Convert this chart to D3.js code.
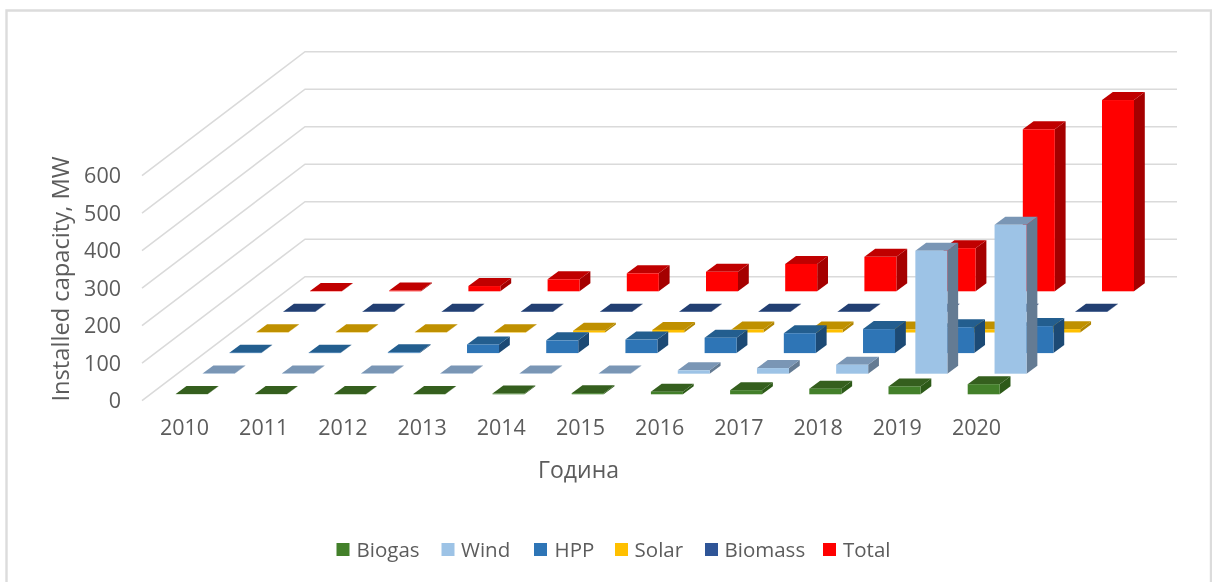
<!DOCTYPE html>
<html><head><meta charset="utf-8">
<script src="https://cdn.jsdelivr.net/npm/d3@7"></script>
<style>
html,body{margin:0;padding:0;background:#fff;overflow:hidden}
svg{display:block;filter:blur(0.45px)}
text{font-family:"Open Sans",sans-serif;fill:#5c5c5c}
</style></head><body>
<svg id="c" width="1212" height="582"></svg>
<script>
const years = [2010,2011,2012,2013,2014,2015,2016,2017,2018,2019,2020];
const seriesNames = ["Biogas","Wind","HPP","Solar","Biomass","Total"];
const biogas  = [0.5,0.5,1,1,2,3,7,11,15,21,27];
const wind    = [0.5,0.5,0.5,0.5,0.5,0.5,9,15,24,328,397];
const hpp     = [1,1,2,23,34,36,41,53,64,69,72];
const solar   = [0.5,0.5,0.5,1,5,7,8,8,8,8,9];
const biomass = [0.5,0.5,0.5,0.5,0.5,0.5,0.5,0.5,0.5,0.5,0.5];
const total   = [1,2,14,32,48,52,73,92,115,432,510];
const yTicks  = [0,100,200,300,400,500,600];
const seriesValues = [biogas,wind,hpp,solar,biomass,total];
const frontColors = ["#43802a","#9dc3e6","#2e75b6","#ffc000","#2f5597","#ff0000"];
const topColors   = ["#355f1e","#7a96b5","#235e8f","#bf9000","#223f72","#c00000"];
const sideColors  = ["#2d5a18","#647b93","#1c4a75","#b08500","#1d3560","#a50000"];
const yLabel = "Installed capacity, MW";
const xLabel = "Година";

const svg = d3.select("#c");

// frame
svg.append("path").attr("d","M6.5,582V10.5H1211V582").attr("fill","none").attr("stroke","#dcdcdc").attr("stroke-width",2.4);

// scales
const yScale = d3.scaleLinear().domain([0,600]).range([400.7,175.7]);
const xAxisScale = d3.scalePoint().domain(years).range([184,976]);
const xBar = d3.scalePoint().domain(years).range([175.7,967.7]);
const rowX = d3.scalePoint().domain(seriesNames).range([0,134.3]);
const rowY = d3.scalePoint().domain(seriesNames).range([394.3,291.3]);
const wallDX = 163, wallDY = -124, wallEnd = 1177, wallStart = 142;
const barW = 32, topDX = 10.8, topDY = -8;

// gridlines
svg.append("g").selectAll("path").data(yTicks).join("path")
  .attr("d", v => d3.line()([[wallStart,yScale(v)],[wallStart+wallDX,yScale(v)+wallDY],[wallEnd,yScale(v)+wallDY]]))
  .attr("fill","none").attr("stroke","#dadada").attr("stroke-width",1.6);

// bars back to front
seriesNames.map((s,i)=>i).reverse().forEach(si=>{
  const name = seriesNames[si];
  const g = svg.append("g");
  const rows = years.map((y,i)=>({y, v:seriesValues[si][i]}));
  const geo = d => {
    const x0 = xBar(d.y)+rowX(name), yb = rowY(name), h = yScale(0)-yScale(d.v);
    return {x0, x1:x0+barW, yb, yt:yb-h};
  };
  const poly = pts => pts.map(p=>p.join(",")).join(" ");
  const bars = g.selectAll("g").data(rows).join("g");
  bars.append("polygon").attr("fill",sideColors[si]).attr("points",d=>{const b=geo(d);
    return poly([[b.x1,b.yb],[b.x1+topDX,b.yb+topDY],[b.x1+topDX,b.yt+topDY],[b.x1,b.yt]]);});
  bars.append("polygon").attr("fill",topColors[si]).attr("points",d=>{const b=geo(d);
    return poly([[b.x0,b.yt],[b.x1,b.yt],[b.x1+topDX,b.yt+topDY],[b.x0+topDX,b.yt+topDY]]);});
  bars.append("rect").attr("fill",frontColors[si])
    .attr("x",d=>geo(d).x0).attr("y",d=>geo(d).yt).attr("width",barW).attr("height",d=>geo(d).yb-geo(d).yt);
});

// axes
const yAxis = svg.append("g").attr("transform","translate(121,0)")
  .call(d3.axisLeft(yScale).tickValues(yTicks).tickSize(0).tickPadding(0));
const xAxis = svg.append("g").attr("transform","translate(0,420)")
  .call(d3.axisBottom(xAxisScale).tickSize(0).tickPadding(0).tickFormat(d3.format("d")));
[yAxis,xAxis].forEach(a=>{a.select(".domain").remove();
  a.selectAll("text").attr("font-size",21.5).style("font-family",'"Open Sans",sans-serif').style("fill","#5c5c5c");});

// titles
svg.append("text").attr("transform","translate(69,279) rotate(-90)").attr("text-anchor","middle")
  .attr("font-size",23.7).text(yLabel);
svg.append("text").attr("x",578.5).attr("y",478).attr("text-anchor","middle").attr("font-size",23).text(xLabel);

// legend
const legendSwatchX = [336.5,441.5,534,615,705,823];
const legendTextX = [356.5,461,554.6,634.6,724.5,843];
const legend = svg.append("g").selectAll("g").data(seriesNames).join("g");
legend.append("rect").attr("x",(d,i)=>legendSwatchX[i]).attr("y",543).attr("width",13).attr("height",13)
  .attr("fill",(d,i)=>frontColors[i]);
legend.append("text").attr("x",(d,i)=>legendTextX[i]).attr("y",557).attr("font-size",20.5).text(d=>d);
</script>
</body></html>
